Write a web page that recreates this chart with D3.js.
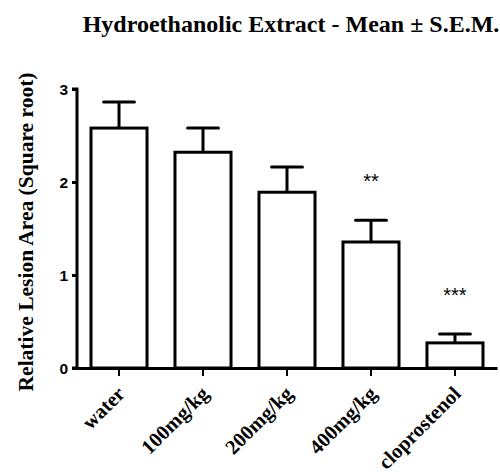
<!DOCTYPE html>
<html>
<head>
<meta charset="utf-8">
<script src="https://cdn.jsdelivr.net/npm/d3@7"></script>
<style>
  body { margin: 0; background: #fff; }
</style>
</head>
<body>
<div id="chart"></div>
<script>
// Chart data
var groups = ["water", "100mg/kg", "200mg/kg", "400mg/kg", "cloprostenol"];
var means = [2.58, 2.32, 1.89, 1.355, 0.27];
var sems = [0.28, 0.26, 0.27, 0.235, 0.095];
var stars = ["", "", "", "**", "***"];
var yTicks = [0, 1, 2, 3];

var width = 500, height = 472;
var margin = {left: 77, right: 3, top: 89, bottom: 104};

var svg = d3.select("#chart").append("svg")
  .attr("width", width)
  .attr("height", height);

var x = d3.scaleBand()
  .domain(groups)
  .range([margin.left, width - margin.right])
  .paddingInner(0.333)
  .paddingOuter(0.1667);

var y = d3.scaleLinear()
  .domain([0, 3])
  .range([height - margin.bottom, margin.top]);

var serif = "'Liberation Serif', 'Times New Roman', serif";
var sans = "'Liberation Sans', Arial, sans-serif";

// Title
svg.append("text")
  .attr("x", 291)
  .attr("y", 32)
  .attr("text-anchor", "middle")
  .style("font-family", serif)
  .style("font-weight", "bold")
  .style("font-size", "24px")
  .text("Hydroethanolic Extract - Mean \u00B1 S.E.M.");

// Y label
svg.append("text")
  .attr("transform", "translate(33,232) rotate(-90)")
  .attr("text-anchor", "middle")
  .style("font-family", serif)
  .style("font-weight", "bold")
  .style("font-size", "21.5px")
  .text("Relative Lesion Area (Square root)");

// Bars
svg.selectAll("rect.bar")
  .data(groups)
  .enter().append("rect")
  .attr("class", "bar")
  .attr("x", d => x(d))
  .attr("y", (d, i) => y(means[i]))
  .attr("width", x.bandwidth())
  .attr("height", (d, i) => y(0) - y(means[i]))
  .style("fill", "#fff")
  .style("stroke", "#000")
  .style("stroke-width", 3);

// Error bars (upper only)
var capW = x.bandwidth() * 0.55;
groups.forEach(function(g, i){
  var cx = x(g) + x.bandwidth() / 2;
  svg.append("line")
    .attr("x1", cx).attr("x2", cx)
    .attr("y1", y(means[i])).attr("y2", y(means[i] + sems[i]))
    .style("stroke", "#000").style("stroke-width", 3);
  svg.append("line")
    .attr("x1", cx - capW / 2).attr("x2", cx + capW / 2)
    .attr("y1", y(means[i] + sems[i])).attr("y2", y(means[i] + sems[i]))
    .style("stroke", "#000").style("stroke-width", 3)
    .style("stroke-linecap", "round");
  if(stars[i]){
    svg.append("text")
      .attr("x", cx)
      .attr("y", y(means[i] + sems[i]) - 32)
      .attr("text-anchor", "middle")
      .style("font-family", sans)
      .style("font-size", "20px")
      .text(stars[i]);
  }
});

// Y axis
var yAxis = svg.append("g")
  .attr("transform", "translate(" + margin.left + ",0)")
  .call(d3.axisLeft(y).tickValues(yTicks).tickFormat(d3.format("d")).tickSize(5).tickPadding(4));
yAxis.select(".domain").style("stroke-width", 3).attr("d", "M-5," + y(3) + "H0V" + y(0) + "H-5");
yAxis.selectAll(".tick line").style("stroke-width", 3);
yAxis.selectAll(".tick text")
  .style("font-family", sans)
  .style("font-weight", "bold")
  .style("font-size", "15.5px")
  .attr("dy", "0.36em");

// X axis
var xAxis = svg.append("g")
  .attr("transform", "translate(0," + y(0) + ")")
  .call(d3.axisBottom(x).tickSize(8).tickSizeOuter(0));
xAxis.select(".domain").style("stroke-width", 3);
xAxis.selectAll(".tick line").style("stroke-width", 2);
xAxis.selectAll(".tick text")
  .style("font-family", serif)
  .style("font-weight", "bold")
  .style("font-size", "20.5px")
  .attr("text-anchor", "end")
  .attr("dy", 0)
  .attr("y", 0)
  .attr("x", 0)
  .attr("transform", "translate(7,27) rotate(-45)");
</script>
</body>
</html>
